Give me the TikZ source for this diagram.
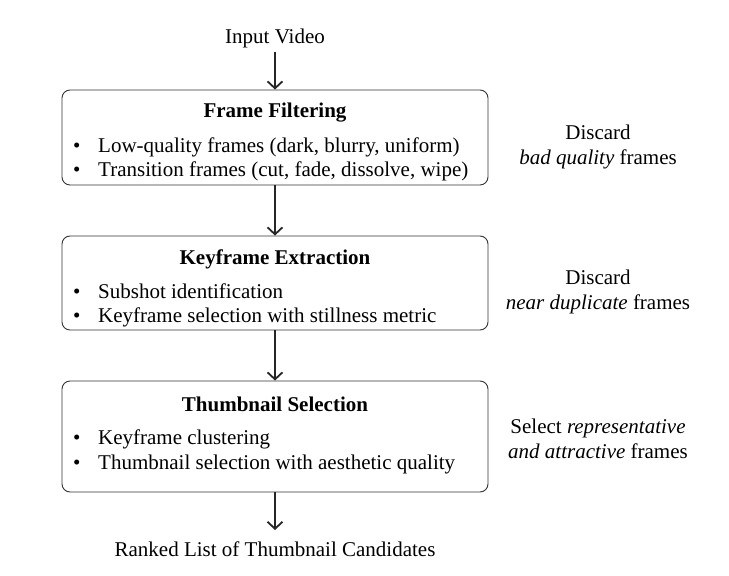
\documentclass[tikz,border=0pt]{standalone}
\usepackage{fontspec}
\setmainfont{Liberation Serif}
\usetikzlibrary{arrows.meta}
\begin{document}
\begin{tikzpicture}[x=1pt,y=-1pt,
  stage/.style={draw=black!80,line width=0.9pt,rounded corners=8pt,minimum width=426pt,inner sep=0pt},
  title/.style={font=\fontsize{21}{24}\selectfont\bfseries},
  txt/.style={font=\fontsize{21}{24}\selectfont,inner sep=0pt},
  item/.style={font=\fontsize{21}{24}\selectfont,inner sep=0pt,anchor=base west},
  flow/.style={draw=black!85,line width=1.6pt,-{Straight Barb[length=7pt,width=15pt,line width=1.8pt]}}]
\useasboundingbox (0,0) rectangle (729,576);
% boxes
\node[stage,minimum height=95pt] (b1) at (275,137.5) {};
\node[stage,minimum height=94pt] (b2) at (275,283) {};
\node[stage,minimum height=111pt] (b3) at (275,436.5) {};
% input/output
\node[txt] (in) at (275,38) {Input Video};
\node[txt] (out) at (275,549) {Ranked List of Thumbnail Candidates};
% titles
\node[title] (t1) at (275,113) {Frame Filtering};
\node[title] (t2) at (275,259) {Keyframe Extraction};
\node[title] (t3) at (275,404) {Thumbnail Selection};
% items box 1
\node[item] (d11) at (73,152.5) {\textbullet};
\node[item] (i11) at (98,152.5) {Low-quality frames (dark, blurry, uniform)};
\node[item] (d12) at (73,176.5) {\textbullet};
\node[item] (i12) at (98,176.5) {Transition frames (cut, fade, dissolve, wipe)};
% items box 2
\node[item] (d21) at (73,298.5) {\textbullet};
\node[item] (i21) at (98,298.5) {Subshot identification};
\node[item] (d22) at (73,322.5) {\textbullet};
\node[item] (i22) at (98,322.5) {Keyframe selection with stillness metric};
% items box 3
\node[item] (d31) at (73,444.5) {\textbullet};
\node[item] (i31) at (98,444.5) {Keyframe clustering};
\node[item] (d32) at (73,469.5) {\textbullet};
\node[item] (i32) at (98,469.5) {Thumbnail selection with aesthetic quality};
% side notes
\node[txt,align=center] (n1) at (598,147) {Discard\\[1pt]\textit{bad quality} frames};
\node[txt,align=center] (n2) at (598,292) {Discard\\[1pt]\textit{near duplicate} frames};
\node[txt,align=center] (n3) at (598,439) {Select \textit{representative}\\[1pt]\textit{and attractive} frames};
% arrows
\draw[flow] (in.south) ++(0,4) coordinate (a0) (a0) -- (b1.north);
\draw[flow] (b1.south) -- (b2.north);
\draw[flow] (b2.south) -- (b3.north);
\coordinate (e3) at (275,530);
\draw[flow] (b3.south) -- (e3);
\end{tikzpicture}
\end{document}
